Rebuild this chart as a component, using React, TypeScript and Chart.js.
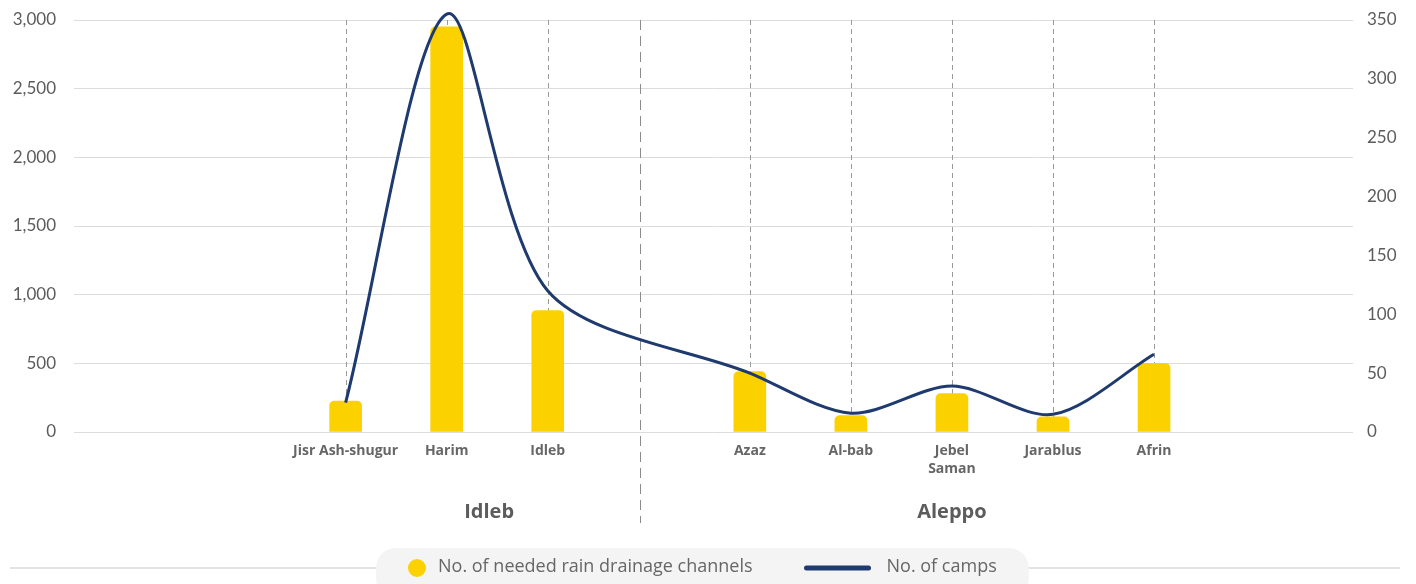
import { useEffect, useRef } from 'react';
import { Chart, registerables } from 'chart.js';

Chart.register(...registerables);

// Governorates and their districts, in display order
const regionNames = ['Idleb', 'Aleppo'];
const idlebDistricts: (string | string[])[] = ['Jisr Ash-shugur', 'Harim', 'Idleb'];
const aleppoDistricts: (string | string[])[] = ['Azaz', 'Al-bab', ['Jebel', 'Saman'], 'Jarablus', 'Afrin'];

// No. of needed rain drainage channels (left axis)
const idlebChannels = [225, 2950, 885];
const aleppoChannels = [440, 120, 280, 110, 500];

// No. of camps (right axis)
const idlebCamps = [25, 355, 120];
const aleppoCamps = [50, 16, 39, 15, 66];

// Axis ranges
const channelAxis = { min: 0, max: 3000, step: 500 };
const campAxis = { min: 0, max: 350, step: 50 };

const legendLabels = ['No. of needed rain drainage channels', 'No. of camps'];

const YELLOW = '#FBD200';
const NAVY = '#1F3A6E';
const TEXT = '#5c5c5c';
const FONT = '"Open Sans", "Noto Sans", sans-serif';

export default function App() {
  const canvasRef = useRef<HTMLCanvasElement>(null);

  useEffect(() => {
    const canvas = canvasRef.current;
    if (!canvas) return;

    // One slot per district, with an empty slot separating the two governorates
    const gapSlot = idlebDistricts.length;
    const slots = [
      ...idlebDistricts.map((_, i) => i),
      ...aleppoDistricts.map((_, i) => gapSlot + 1 + i),
    ];
    const districts = [...idlebDistricts, ...aleppoDistricts];
    const channels = [...idlebChannels, ...aleppoChannels];
    const camps = [...idlebCamps, ...aleppoCamps];
    const labelBySlot = new Map<number, string | string[]>(slots.map((s, i) => [s, districts[i]]));
    // horizontal centre of each governorate caption, in slot units
    const regionCaptionSlot = [1.42, gapSlot + 1 + (aleppoDistricts.length - 1) / 2];

    const guides = {
      id: 'guides',
      beforeDatasetsDraw(chart: any) {
        const { ctx, chartArea } = chart;
        const x = chart.scales.x;
        ctx.save();
        ctx.strokeStyle = '#9a9a9a';
        ctx.lineWidth = 1;
        ctx.setLineDash([5, 4]);
        slots.forEach((s) => {
          const px = Math.round(x.getPixelForValue(s)) + 0.5;
          ctx.beginPath();
          ctx.moveTo(px, chartArea.top);
          ctx.lineTo(px, chartArea.bottom);
          ctx.stroke();
        });
        // governorate divider
        ctx.strokeStyle = '#8c8c8c';
        ctx.setLineDash([10, 6]);
        const dx = Math.round(x.getPixelForValue(gapSlot - 0.09)) + 0.5;
        ctx.beginPath();
        ctx.moveTo(dx, chartArea.top);
        ctx.lineTo(dx, 523);
        ctx.stroke();
        ctx.restore();
      },
    };

    const captions = {
      id: 'captions',
      afterDraw(chart: any) {
        const { ctx } = chart;
        const x = chart.scales.x;
        ctx.save();
        // governorate captions
        ctx.fillStyle = TEXT;
        ctx.font = `bold 20px ${FONT}`;
        ctx.textAlign = 'center';
        ctx.textBaseline = 'middle';
        regionNames.forEach((name, i) => {
          ctx.fillText(name, x.getPixelForValue(regionCaptionSlot[i]), 512);
        });

        // legend
        const cy = 567;
        ctx.strokeStyle = '#e3e3e3';
        ctx.lineWidth = 2;
        ctx.beginPath();
        ctx.moveTo(10, cy + 1);
        ctx.lineTo(1400, cy + 1);
        ctx.stroke();

        ctx.font = `18px ${FONT}`;
        const w1 = ctx.measureText(legendLabels[0]).width;
        const w2 = ctx.measureText(legendLabels[1]).width;
        const left = 376;
        const markerX = left + 41;
        const text1X = markerX + 21;
        const lineStart = text1X + w1 + 54;
        const lineEnd = lineStart + 62;
        const text2X = lineEnd + 18;
        const right = text2X + w2 + 32;

        ctx.fillStyle = '#f4f4f4';
        ctx.beginPath();
        (ctx as any).roundRect(left, 548, right - left, 50, 20);
        ctx.fill();

        ctx.fillStyle = YELLOW;
        ctx.beginPath();
        ctx.arc(markerX, cy + 1, 9, 0, Math.PI * 2);
        ctx.fill();

        ctx.strokeStyle = NAVY;
        ctx.lineWidth = 5;
        ctx.lineCap = 'round';
        ctx.beginPath();
        ctx.moveTo(lineStart, cy + 1);
        ctx.lineTo(lineEnd, cy + 1);
        ctx.stroke();

        ctx.fillStyle = '#666';
        ctx.textAlign = 'left';
        ctx.fillText(legendLabels[0], text1X, cy);
        ctx.fillText(legendLabels[1], text2X, cy);
        ctx.restore();
      },
    };

    const chart = new Chart(canvas, {
      type: 'bar',
      data: {
        datasets: [
          {
            type: 'line',
            label: legendLabels[1],
            data: slots.map((s, i) => ({ x: s, y: camps[i] })),
            yAxisID: 'y1',
            borderColor: NAVY,
            borderWidth: 3,
            tension: 0.3,
            pointRadius: 0,
            fill: false,
            clip: false,
            order: 0,
          },
          {
            type: 'bar',
            label: legendLabels[0],
            data: slots.map((s, i) => ({ x: s, y: channels[i] })),
            yAxisID: 'y',
            backgroundColor: YELLOW,
            barThickness: 32,
            borderRadius: 5,
            order: 1,
          },
        ] as any,
      },
      options: {
        animation: false,
        responsive: false,
        maintainAspectRatio: false,
        devicePixelRatio: 1,
        layout: { padding: { top: 20, left: 0, right: 0, bottom: 0 } },
        plugins: {
          legend: { display: false },
          tooltip: { enabled: false },
        },
        scales: {
          x: {
            type: 'linear',
            offset: false,
            min: -2.688,
            max: 9.969,
            grid: { display: false, drawTicks: false, offset: false },
            border: { display: false },
            afterBuildTicks: (scale: any) => {
              scale.ticks = slots.map((v) => ({ value: v }));
            },
            afterFit: (scale: any) => {
              scale.height = 152;
            },
            ticks: {
              autoSkip: false,
              maxRotation: 0,
              minRotation: 0,
              padding: 10,
              color: '#666',
              font: { family: FONT, size: 14, weight: 'bold', lineHeight: 1.3 },
              callback: (v: any) => labelBySlot.get(Number(v)) ?? '',
            },
          },
          y: {
            position: 'left',
            min: channelAxis.min,
            max: channelAxis.max,
            grid: { color: '#dcdcdc', lineWidth: 1, drawTicks: true, tickLength: 18, tickColor: 'rgba(0,0,0,0)' },
            border: { display: false },
            afterFit: (scale: any) => {
              scale.width = 74;
            },
            ticks: {
              stepSize: channelAxis.step,
              padding: 0,
              color: TEXT,
              font: { family: 'Lato, sans-serif', size: 17 },
            },
          },
          y1: {
            position: 'right',
            min: campAxis.min,
            max: campAxis.max,
            grid: { drawOnChartArea: false, drawTicks: true, tickLength: 14, tickColor: 'rgba(0,0,0,0)' },
            border: { display: false },
            afterFit: (scale: any) => {
              scale.width = 63;
            },
            ticks: {
              stepSize: campAxis.step,
              padding: 0,
              color: TEXT,
              font: { family: 'Lato, sans-serif', size: 17 },
            },
          },
        },
      } as any,
      plugins: [guides, captions],
    });

    return () => chart.destroy();
  }, []);

  return (
    <div style={{ position: 'absolute', left: 0, top: 0, width: 1416, height: 584, background: '#fff' }}>
      <canvas ref={canvasRef} width={1416} height={584} />
    </div>
  );
}
